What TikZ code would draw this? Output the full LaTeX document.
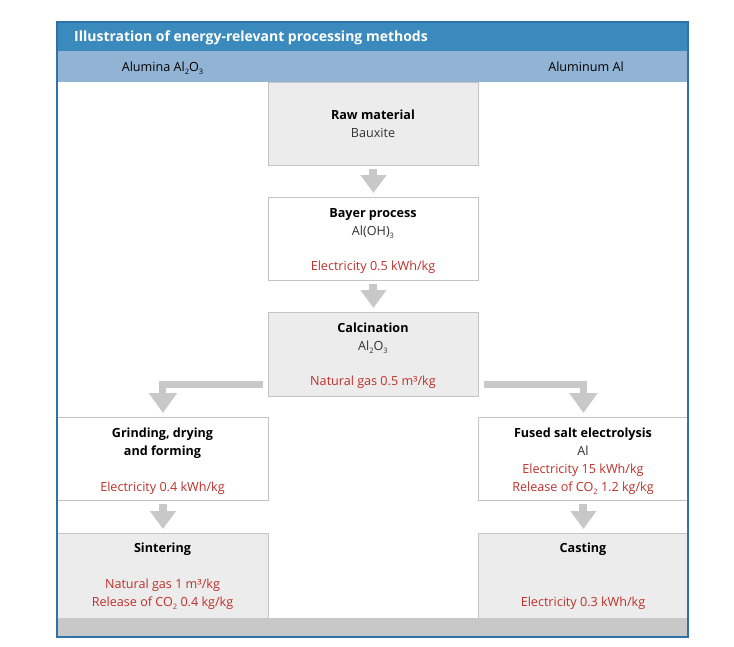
\documentclass[tikz,border=0pt]{standalone}
\usepackage{fontspec}
\setmainfont{Open Sans}
\usetikzlibrary{arrows.meta}
\definecolor{titleblue}{RGB}{58,138,190}
\definecolor{frameblue}{RGB}{45,115,170}
\definecolor{bandblue}{RGB}{146,180,212}
\definecolor{boxgray}{RGB}{236,236,236}
\definecolor{edgegray}{RGB}{196,196,196}
\definecolor{arrowgray}{RGB}{200,200,200}
\definecolor{footgray}{RGB}{200,200,200}
\definecolor{redtxt}{RGB}{192,48,42}
\definecolor{bodytxt}{RGB}{50,50,50}
\newcommand{\sbs}[1]{\raisebox{-0.45ex}{\fontsize{7.5}{8}\selectfont #1}}
\begin{document}
\begin{tikzpicture}[x=1pt,y=-1pt,
  box/.style={draw=edgegray, line width=0.9pt, minimum width=#1, minimum height=84pt, inner sep=0pt, anchor=north west},
  graybox/.style={box=#1, fill=boxgray},
  whitebox/.style={box=#1, fill=white},
  ttl/.style={font=\bfseries\fontsize{12.6}{14}\selectfont, text=black, inner sep=0pt, anchor=base},
  txt/.style={font=\fontsize{12.6}{14}\selectfont, text=bodytxt, inner sep=0pt, anchor=base},
  rtxt/.style={font=\fontsize{12.6}{14}\selectfont, text=redtxt, inner sep=0pt, anchor=base},
  blk/.style={draw=arrowgray, line width=8pt, -{Triangle[width=25pt,length=18pt]}, shorten <=3pt, shorten >=4pt},
  larrow/.style={draw=arrowgray, line width=7pt, line join=miter, -{Triangle[width=27pt,length=20pt]}, shorten >=4pt}
]
\useasboundingbox (0,0) rectangle (734,646);
\fill[white] (0,0) rectangle (734,646);

% header
\fill[titleblue] (57,22) rectangle (688,51);
\fill[bandblue] (57,51) rectangle (688,82);
\node[font=\bfseries\fontsize{14}{16}\selectfont, text=white, inner sep=0pt, anchor=base west] (title) at (74,41) {Illustration of energy-relevant processing methods};
\node[font=\fontsize{12.6}{14}\selectfont, text=black, inner sep=0pt, anchor=base] (lhead) at (162.5,71) {Alumina Al\sbs{2}O\sbs{3}};
\node[font=\fontsize{12.6}{14}\selectfont, text=black, inner sep=0pt, anchor=base] (rhead) at (586,71) {Aluminum Al};

% boxes
\node[graybox=210pt, minimum height=83pt] (raw) at (268,82) {};
\node[whitebox=210pt, minimum height=83pt] (bayer) at (268,197) {};
\node[graybox=210pt] (calc) at (268,312) {};
\node[whitebox=211pt, minimum height=83pt] (grind) at (57,417) {};
\node[whitebox=210pt, minimum height=83pt] (fused) at (478,417) {};
\node[graybox=211pt, minimum height=85pt] (sinter) at (57,533) {};
\node[graybox=210pt, minimum height=85pt] (cast) at (478,533) {};

% footer band and frame
\fill[footgray] (57,618) rectangle (688,637);
\draw[frameblue, line width=1.2pt] (57,22) rectangle (688,637);

% arrows
\draw[blk] (raw) -- (bayer);
\draw[blk] (bayer) -- (calc);
\draw[larrow] ([xshift=-5pt,yshift=12pt]calc.south west) -| (grind.north);
\draw[larrow] ([xshift=5pt,yshift=12pt]calc.south east) -| (fused.north);
\draw[blk] (grind) -- (sinter);
\draw[blk] (fused) -- (cast);

% texts
\node[ttl] (rawA) at (373,119) {Raw material};
\node[txt] (rawB) at (373,137.5) {Bauxite};

\node[ttl] (bayA) at (373,217) {Bayer process};
\node[txt] (bayB) at (373,235) {Al(OH)\sbs{3}};
\node[rtxt] (bayC) at (373,270) {Electricity 0.5 kWh/kg};

\node[ttl] (calA) at (373,332) {Calcination};
\node[txt] (calB) at (373,350) {Al\sbs{2}O\sbs{3}};
\node[rtxt] (calC) at (373,385.5) {Natural gas 0.5 m³/kg};

\node[ttl] (griA) at (162.5,437.5) {Grinding, drying};
\node[ttl] (griB) at (162.5,455.5) {and forming};
\node[rtxt] (griC) at (162.5,491.5) {Electricity 0.4 kWh/kg};

\node[ttl] (fusA) at (583,437.5) {Fused salt electrolysis};
\node[txt] (fusB) at (583,455.5) {Al};
\node[rtxt] (fusC) at (583,473) {Electricity 15 kWh/kg};
\node[rtxt] (fusD) at (583,491.5) {Release of CO\sbs{2} 1.2 kg/kg};

\node[ttl] (sinA) at (162.5,552) {Sintering};
\node[rtxt] (sinB) at (162.5,588) {Natural gas 1 m³/kg};
\node[rtxt] (sinC) at (162.5,606) {Release of CO\sbs{2} 0.4 kg/kg};

\node[ttl] (casA) at (583,552) {Casting};
\node[rtxt] (casB) at (583,606) {Electricity 0.3 kWh/kg};
\end{tikzpicture}
\end{document}
